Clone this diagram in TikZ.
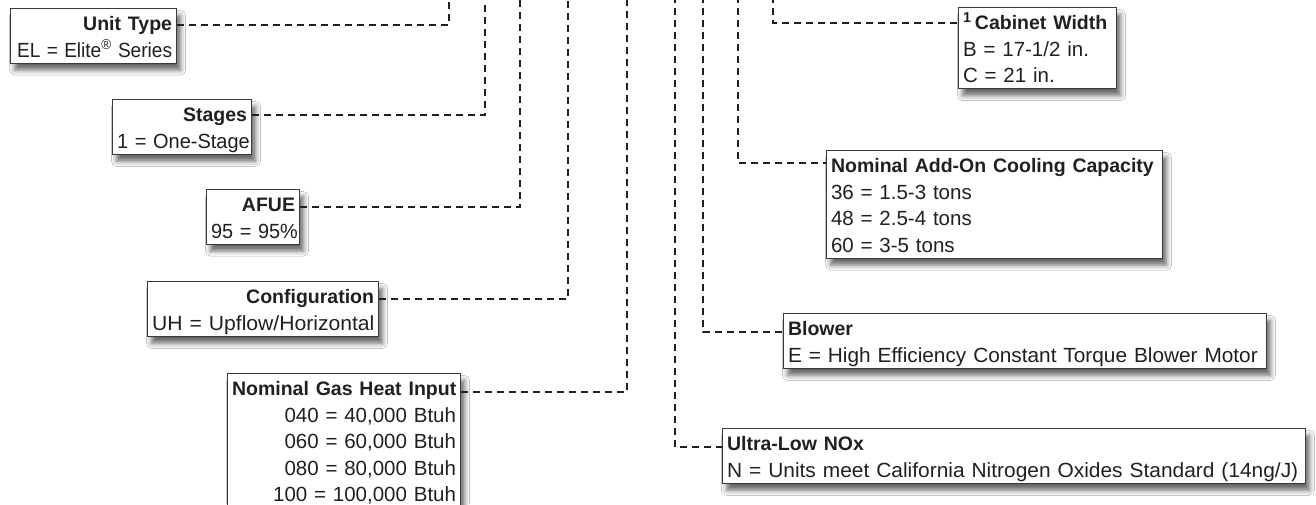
\documentclass[tikz,border=0pt]{standalone}
\usepackage{fontspec}
\usepackage{graphicx}
\setmainfont{Liberation Sans}
\usetikzlibrary{shadows.blur}
\definecolor{ink}{HTML}{231F20}
\definecolor{boxline}{HTML}{3A3A3A}
\newcommand{\mystrut}{\rule[-4pt]{0pt}{24pt}}
\newcommand{\ttl}[1]{\mystrut\mbox{\fontsize{19.5}{26.5}\selectfont\bfseries #1}}
\newcommand{\tline}[2][1]{\mystrut\mbox{\scalebox{#1}[1]{#2}}}
\begin{document}
\begin{tikzpicture}[x=1pt,y=-1pt,
  every node/.style={font=\fontsize{20.5}{26.5}\selectfont, text=ink},
  infobox/.style={draw=boxline, line width=1.1pt, fill=white, inner xsep=4.5pt,
    inner ysep=2pt, anchor=north west,
    blur shadow={shadow xshift=4pt, shadow yshift=-7pt, shadow blur radius=5pt, shadow opacity=60}},
  lbox/.style={infobox, align=right},
  rbox/.style={infobox, align=left},
  conn/.style={draw=ink, line width=2.3pt, dash pattern=on 7pt off 5pt}
]
\useasboundingbox (0,0) rectangle (1316,504);
\fill[white] (0,0) rectangle (1316,504);
\clip (0,0) rectangle (1316,504);

% top ends of the vertical leaders
\coordinate (tUnit) at (449,-4);
\coordinate (tStages) at (485,-4);
\coordinate (tAfue) at (520,-4);
\coordinate (tConfig) at (568,-4);
\coordinate (tGas) at (627,-4);
\coordinate (tUltra) at (675,-4);
\coordinate (tBlower) at (703,-4);
\coordinate (tCool) at (738,-4);
\coordinate (tCab) at (773,-4);
% rows of the horizontal leaders
\coordinate (rUnit) at (0,25);
\coordinate (rStages) at (0,115);
\coordinate (rAfue) at (0,207);
\coordinate (rConfig) at (0,299);
\coordinate (rGas) at (0,392);
\coordinate (rUltra) at (0,447);
\coordinate (rBlower) at (0,332);
\coordinate (rCool) at (0,163);
\coordinate (rCab) at (0,23);

% left boxes
\node[lbox, text width=157pt] (unit) at (10,8)
  {\ttl{Unit Type}\\\tline[0.93]{EL = Elite\textsuperscript{®} Series}};
\node[lbox, text width=130pt] (stages) at (112,99)
  {\ttl{Stages}\\\tline[0.975]{1 = One-Stage}};
\node[lbox, text width=84pt] (afue) at (206,189)
  {\ttl{AFUE}\\\tline[0.97]{95 = 95\%}};
\node[lbox, text width=222pt] (config) at (147,281)
  {\ttl{Configuration}\\\tline[1.03]{UH = Upflow/Horizontal}};
\node[lbox, text width=224pt] (gas) at (227,373)
  {\ttl{Nominal Gas Heat Input}\\\tline{040 = 40,000 Btuh}\\\tline{060 = 60,000 Btuh}\\\tline{080 = 80,000 Btuh}\\\tline{100 = 100,000 Btuh}};

% right boxes
\node[rbox, text width=149pt] (cab) at (958,7)
  {\mystrut\mbox{\textsuperscript{\bfseries 1}\,\fontsize{19.5}{26.5}\selectfont\bfseries Cabinet Width}\\\tline{B = 17-1/2 in.}\\\tline{C = 21 in.}};
\node[rbox, text width=327pt] (cool) at (826,150)
  {\ttl{Nominal Add-On Cooling Capacity}\\\tline{36 = 1.5-3 tons}\\\tline{48 = 2.5-4 tons}\\\tline{60 = 3-5 tons}};
\node[rbox, text width=474pt] (blower) at (783,313)
  {\ttl{Blower}\\\tline[1.015]{E = High Efficiency Constant Torque Blower Motor}};
\node[rbox, text width=574pt] (ultra) at (722,428)
  {\ttl{Ultra-Low NOx}\\\tline[1.02]{N = Units meet California Nitrogen Oxides Standard (14ng/J)}};

% leaders
\draw[conn] (unit.east |- rUnit) -| (tUnit);
\draw[conn] (stages.east |- rStages) -| (tStages);
\draw[conn] (afue.east |- rAfue) -| (tAfue);
\draw[conn] (config.east |- rConfig) -| (tConfig);
\draw[conn] (gas.east |- rGas) -| (tGas);
\draw[conn] (tUltra) |- (ultra.west |- rUltra);
\draw[conn] (tBlower) |- (blower.west |- rBlower);
\draw[conn] (tCool) |- (cool.west |- rCool);
\draw[conn] (tCab) |- (cab.west |- rCab);
\end{tikzpicture}
\end{document}
